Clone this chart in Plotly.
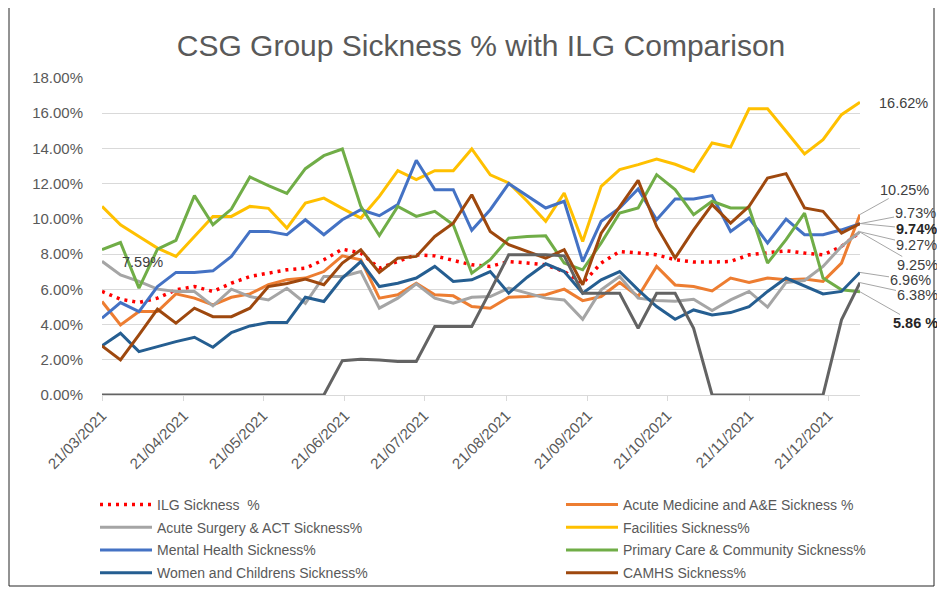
import plotly.graph_objects as go

# weekly dates
dates = ["2021-03-21", "2021-03-28", "2021-04-04", "2021-04-11", "2021-04-18", "2021-04-25",
         "2021-05-02", "2021-05-09", "2021-05-16", "2021-05-23", "2021-05-30", "2021-06-06",
         "2021-06-13", "2021-06-20", "2021-06-27", "2021-07-04", "2021-07-11", "2021-07-18",
         "2021-07-25", "2021-08-01", "2021-08-08", "2021-08-15", "2021-08-22", "2021-08-29",
         "2021-09-05", "2021-09-12", "2021-09-19", "2021-09-26", "2021-10-03", "2021-10-10",
         "2021-10-17", "2021-10-24", "2021-10-31", "2021-11-07", "2021-11-14", "2021-11-21",
         "2021-11-28", "2021-12-05", "2021-12-12", "2021-12-19", "2021-12-26", "2022-01-02"]

ilg = [5.88, 5.44, 5.25, 5.5, 5.97, 6.16, 5.88, 6.35, 6.73, 6.92,
       7.11, 7.2, 7.68, 8.28, 8.06, 7.2, 7.58, 7.96, 7.9, 7.64,
       7.39, 7.3, 7.58, 7.49, 7.39, 7.01, 6.35, 7.49, 8.15, 8.06,
       7.96, 7.68, 7.55, 7.55, 7.58, 7.96, 8.06, 8.19, 8.06, 7.96, 8.44, 9.25]
acute_med = [5.31, 3.98, 4.74, 4.74, 5.74, 5.5, 5.12, 5.55, 5.74, 6.26,
             6.55, 6.64, 7.01, 7.9, 7.68, 5.5, 5.69, 6.35, 5.69, 5.63,
             5.02, 4.93, 5.55, 5.59, 5.69, 6.01, 5.36, 5.59, 6.39, 5.59,
             7.3, 6.25, 6.16, 5.91, 6.64, 6.39, 6.64, 6.54, 6.58, 6.45, 7.49, 10.25]
acute_surg = [7.59, 6.82, 6.45, 6.01, 5.88, 5.88, 5.06, 6.01, 5.59, 5.4,
              6.06, 5.21, 6.73, 6.73, 7.01, 4.93, 5.5, 6.31, 5.5, 5.21,
              5.55, 5.59, 6.07, 5.78, 5.5, 5.4, 4.3, 5.97, 6.73, 5.5,
              5.36, 5.33, 5.44, 4.8, 5.4, 5.88, 4.99, 6.39, 6.5, 7.3, 8.44, 9.27]
facilities = [10.71, 9.67, 9.0, 8.34, 7.87, 9.0, 10.14, 10.14, 10.71, 10.6,
              9.48, 10.9, 11.18, 10.6, 10.05, 11.28, 12.74, 12.23, 12.74, 12.74,
              13.97, 12.5, 12.04, 11.0, 9.86, 11.47, 8.72, 11.85, 12.8, 13.08,
              13.4, 13.1, 12.7, 14.31, 14.08, 16.25, 16.25, 14.98, 13.69, 14.5, 15.92, 16.62]
mental = [4.36, 5.25, 4.74, 6.16, 6.96, 6.96, 7.05, 7.87, 9.29, 9.29,
          9.1, 9.95, 9.1, 9.95, 10.52, 10.18, 10.81, 13.33, 11.66, 11.66,
          9.35, 10.52, 12.0, 11.32, 10.62, 11.0, 7.58, 9.86, 10.62, 11.7,
          9.95, 11.13, 11.13, 11.32, 9.29, 10.05, 8.63, 9.99, 9.1, 9.1, 9.38, 9.73]
primary = [8.25, 8.66, 6.07, 8.28, 8.78, 11.32, 9.67, 10.56, 12.38, 11.89,
           11.45, 12.85, 13.59, 13.97, 10.71, 9.06, 10.71, 10.14, 10.43, 9.67,
           6.92, 7.68, 8.91, 9.0, 9.04, 7.49, 7.11, 8.63, 10.33, 10.62,
           12.51, 11.66, 10.24, 11.0, 10.62, 10.62, 7.49, 8.82, 10.33, 6.64, 5.97, 5.86]
women = [2.79, 3.51, 2.46, 2.75, 3.03, 3.28, 2.71, 3.55, 3.92, 4.11,
         4.11, 5.55, 5.31, 6.64, 7.58, 6.16, 6.35, 6.64, 7.3, 6.45,
         6.54, 7.01, 5.78, 6.69, 7.45, 7.01, 5.78, 6.54, 7.01, 5.97,
         5.02, 4.3, 4.83, 4.55, 4.68, 5.02, 5.88, 6.64, 6.2, 5.74, 5.88, 6.96]
camhs = [2.79, 1.99, 3.41, 4.87, 4.08, 4.93, 4.45, 4.45, 4.93, 6.16,
         6.33, 6.58, 6.26, 7.49, 8.25, 6.96, 7.77, 7.87, 9.0, 9.76,
         11.37, 9.29, 8.53, 8.15, 7.77, 8.25, 6.26, 9.19, 10.71, 12.19,
         9.57, 7.78, 9.38, 10.81, 9.76, 10.71, 12.32, 12.57, 10.62, 10.43, 9.19, 9.74]
other = [0, 0, 0, 0, 0, 0, 0, 0, 0, 0,
         0, 0, 0, 1.95, 2.03, 1.99, 1.9, 1.9, 3.89, 3.89,
         3.89, 5.9, 7.96, 7.96, 7.96, 7.9, 5.78, 5.78, 5.78, 3.79,
         5.78, 5.78, 3.79, 0, 0, 0, 0, 0, 0, 0, 4.27, 6.38]

month_ticks = ["2021-03-21", "2021-04-21", "2021-05-21", "2021-06-21", "2021-07-21",
               "2021-08-21", "2021-09-21", "2021-10-21", "2021-11-21", "2021-12-21"]
y_ticks = [0, 2, 4, 6, 8, 10, 12, 14, 16, 18]

# page body has an 8px margin, so the figure is 8px smaller and all
# reference pixel positions below are shifted by OFF
OFF = 8
W, H = 945 - OFF, 597 - OFF
L, T = 102 - OFF, 78 - OFF
R, B = W - (860 - OFF), H - (395 - OFF)
pw, ph = W - L - R, H - T - B
FONT = "Liberation Sans"
GREY = "#595959"

series = [
    ("ILG Sickness  %", ilg, "#FF0000", "legend", "dot"),
    ("Acute Medicine and A&E Sickness %", acute_med, "#ED7D31", "legend2", "solid"),
    ("Acute Surgery & ACT Sickness%", acute_surg, "#A5A5A5", "legend", "solid"),
    ("Facilities Sickness%", facilities, "#FFC000", "legend2", "solid"),
    ("Mental Health Sickness%", mental, "#4472C4", "legend", "solid"),
    ("Primary Care & Community Sickness%", primary, "#70AD47", "legend2", "solid"),
    ("Women and Childrens Sickness%", women, "#255E91", "legend", "solid"),
    ("CAMHS Sickness%", camhs, "#9E480E", "legend2", "solid"),
]

fig = go.Figure()
for name, vals, col, lg, dash in series:
    fig.add_trace(go.Scatter(
        x=dates, y=vals, name=name, mode="lines", legend=lg, legendgroup=name,
        line=dict(color=col, width=3.5 if dash == "dot" else 3,
                  dash="3px,5px" if dash == "dot" else "solid"),
    ))
fig.add_trace(go.Scatter(x=dates, y=other, mode="lines", showlegend=False,
                         line=dict(color="#636363", width=3)))


def py(v):
    return T + (18 - v) / 18 * ph


# end-of-line labels: (value, text, text centre x, text centre y in reference px, bold, leader)
end_labels = [
    (facilities[-1], "16.62%", 903, 103, False, False),
    (acute_med[-1], "10.25%", 904, 190, False, True),
    (mental[-1], "9.73%", 915, 213, False, True),
    (camhs[-1], "9.74%", 916, 229, True, True),
    (acute_surg[-1], "9.27%", 916, 245, False, True),
    (ilg[-1], "9.25%", 917, 265, False, True),
    (women[-1], "6.96%", 910, 280, False, True),
    (other[-1], "6.38%", 917, 295, False, True),
    (primary[-1], "5.86 %", 915, 323, True, True),
]
xend = L + pw
for v, txt, tx, ty, bold, arrow in end_labels:
    fig.add_annotation(
        x=dates[-1], y=v, text=f"<b>{txt}</b>" if bold else txt,
        showarrow=True, arrowhead=0, arrowwidth=1,
        arrowcolor="#a6a6a6" if arrow else "rgba(0,0,0,0)",
        ax=tx - OFF - xend, ay=ty - OFF - py(v), standoff=0, borderpad=0,
        font=dict(family=FONT, size=14.5, color="#262626" if bold else "#404040"),
    )
fig.add_annotation(x=dates[0], y=acute_surg[0], text="7.59%", showarrow=False,
                   xanchor="left", xshift=18, yshift=-1,
                   font=dict(family=FONT, size=14.5, color="#404040"))

# chart border (top edge lies outside the picture)
fig.add_shape(type="rect", xref="paper", yref="paper", layer="above",
              x0=(9 - OFF - L) / pw, x1=(934 - OFF - L) / pw,
              y0=(H - B - (586 - OFF)) / ph, y1=(H - B + 5) / ph,
              line=dict(color="#262626", width=1))

leg_top = (H - B - (489 - OFF)) / ph
fig.update_layout(
    width=W, height=H,
    margin=dict(l=L, r=R, t=T, b=B, autoexpand=False),
    paper_bgcolor="white", plot_bgcolor="white",
    font=dict(family=FONT, color=GREY),
    title=dict(text="CSG Group Sickness % with ILG Comparison",
               x=(481 - OFF) / W, xanchor="center", y=1 - (45 - OFF) / H, yanchor="middle",
               font=dict(family=FONT, size=30, color=GREY)),
    xaxis=dict(type="date", range=[dates[0], dates[-1]], tickvals=month_ticks,
               tickformat="%d/%m/%Y", tickangle=-45, showgrid=False, automargin=False,
               showline=True, linecolor="#d9d9d9", linewidth=1,
               ticks="outside", ticklen=5, tickcolor="#d9d9d9",
               tickfont=dict(size=15, color=GREY)),
    yaxis=dict(range=[0, 18], tickvals=y_ticks, automargin=False,
               ticktext=[f"{v:.2f}%" for v in y_ticks],
               showgrid=True, gridcolor="#d9d9d9", gridwidth=1,
               zeroline=False, showline=False, ticks="", ticklabelstandoff=18,
               tickfont=dict(size=15, color=GREY)),
    legend=dict(x=(95 - OFF - L) / pw, xanchor="left", y=leg_top, yanchor="top",
                font=dict(size=14, color=GREY), itemwidth=52, tracegroupgap=1.5,
                bgcolor="rgba(0,0,0,0)"),
    legend2=dict(x=(561 - OFF - L) / pw, xanchor="left", y=leg_top, yanchor="top",
                 font=dict(size=14, color=GREY), itemwidth=52, tracegroupgap=1.5,
                 bgcolor="rgba(0,0,0,0)"),
)

fig.write_html("out.html")
